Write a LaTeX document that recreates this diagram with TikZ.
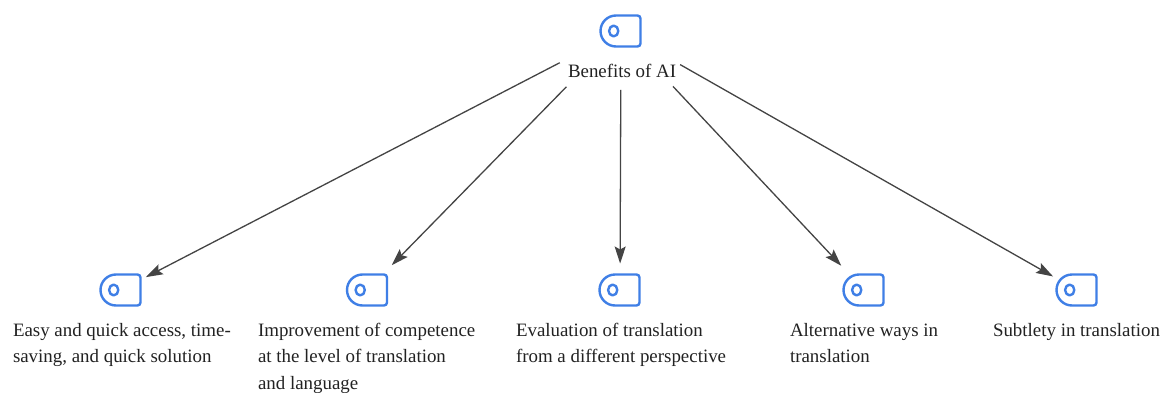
\documentclass[tikz,border=0pt]{standalone}
\usepackage{fontspec}
\setmainfont{Liberation Serif}
\usetikzlibrary{arrows.meta}
\tikzset{
  x=1pt,y=1pt,
  iconbox/.style={minimum width=40pt,minimum height=31pt,inner sep=0pt,outer sep=0pt},
  iconline/.style={draw=iconblue,line width=2.4pt,line join=round},
  label/.style={anchor=base west,inner sep=0pt,outer sep=0pt,align=left,font=\fontsize{18.9}{26.7}\selectfont,text=textdark},
  link/.style={draw=linkgrey,line width=1.3pt,-{Stealth[length=17pt,width=11pt,inset=3pt]}}
}
\definecolor{iconblue}{HTML}{3F7FE6}
\definecolor{linkgrey}{HTML}{444444}
\definecolor{textdark}{HTML}{222222}
\newcommand{\iconat}[1]{%
  \draw[iconline,shift={(#1.center)}] (-5,15.5) -- (16.5,15.5) arc (90:0:3) -- (19.5,-12.5) arc (0:-90:3) -- (-5,-15.5) arc (270:90:15.5) -- cycle;
  \draw[iconline,shift={(#1.center)}] (-7.3,0) ellipse (4.6 and 5.4);
}
\begin{document}
\begin{tikzpicture}
\useasboundingbox (0,0) rectangle (1161,392);
\fill[white] (0,0) rectangle (1161,392);
\node[iconbox] (top) at (621,361) {};
\node[iconbox] (ia) at (121,102) {};
\node[iconbox] (ib) at (367.5,102) {};
\node[iconbox] (ic) at (620,102) {};
\node[iconbox] (id) at (864,102) {};
\node[iconbox] (ie) at (1077,102) {};
\iconat{top}\iconat{ia}\iconat{ib}\iconat{ic}\iconat{id}\iconat{ie}
\node[label] (root) at (568,315) {Benefits of AI};
\node[label] (ta) at (13,29.3) {Easy and quick access, time-\\saving, and quick solution};
\node[label] (tb) at (258,2.6) {Improvement of competence\\at the level of translation\\and language};
\node[label] (tc) at (516,29.3) {Evaluation of translation\\from a different perspective};
\node[label] (td) at (790,29.3) {Alternative ways in\\translation};
\node[label] (te) at (993,56) {Subtlety in translation};
\draw[link,shorten <=69pt,shorten >=5.5pt] (top.center) -- (ia);
\draw[link,shorten <=78pt,shorten >=13pt] (top.center) -- (ib);
\draw[link,shorten <=59pt,shorten >=11pt] (top.center) -- (ic);
\draw[link,shorten <=76pt,shorten >=12pt] (top.center) -- (id);
\draw[link,shorten <=68pt,shorten >=4.5pt] (top.center) -- (ie);
\end{tikzpicture}
\end{document}
